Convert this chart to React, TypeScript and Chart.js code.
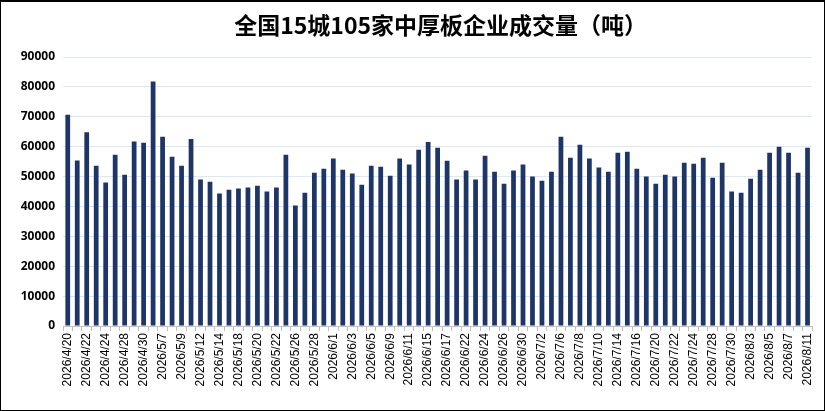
import { useEffect, useRef } from "react";
import { Chart, registerables } from "chart.js";

Chart.register(...registerables);

const titleText = "全国15城105家中厚板企业成交量（吨）";

const dates = [
  "2026/4/20", "2026/4/21", "2026/4/22", "2026/4/23", "2026/4/24",
  "2026/4/27", "2026/4/28", "2026/4/29", "2026/4/30", "2026/5/6",
  "2026/5/7", "2026/5/8", "2026/5/9", "2026/5/11", "2026/5/12",
  "2026/5/13", "2026/5/14", "2026/5/15", "2026/5/18", "2026/5/19",
  "2026/5/20", "2026/5/21", "2026/5/22", "2026/5/25", "2026/5/26",
  "2026/5/27", "2026/5/28", "2026/5/29", "2026/6/1", "2026/6/2",
  "2026/6/3", "2026/6/4", "2026/6/5", "2026/6/8", "2026/6/9",
  "2026/6/10", "2026/6/11", "2026/6/12", "2026/6/15", "2026/6/16",
  "2026/6/17", "2026/6/18", "2026/6/22", "2026/6/23", "2026/6/24",
  "2026/6/25", "2026/6/26", "2026/6/29", "2026/6/30", "2026/7/1",
  "2026/7/2", "2026/7/3", "2026/7/6", "2026/7/7", "2026/7/8",
  "2026/7/9", "2026/7/10", "2026/7/13", "2026/7/14", "2026/7/15",
  "2026/7/16", "2026/7/17", "2026/7/20", "2026/7/21", "2026/7/22",
  "2026/7/23", "2026/7/24", "2026/7/27", "2026/7/28", "2026/7/29",
  "2026/7/30", "2026/7/31", "2026/8/3", "2026/8/4", "2026/8/5",
  "2026/8/6", "2026/8/7", "2026/8/10", "2026/8/11",
];

const volumes = [
  70700, 55400, 64800, 53600, 48000, 57300, 50600, 61700, 61300, 81800,
  63300, 56600, 53600, 62600, 49000, 48300, 44300, 45600, 46000, 46300,
  46900, 45000, 46300, 57300, 40300, 44600, 51300, 52600, 56000, 52300,
  51000, 47300, 53600, 53300, 50300, 56000, 54000, 59000, 61600, 59600,
  55300, 49000, 52000, 49000, 57000, 51600, 47600, 52000, 54000, 50000,
  48600, 51600, 63300, 56300, 60600, 56000, 53000, 51600, 58000, 58300,
  52600, 50000, 47600, 50600, 50000, 54600, 54300, 56300, 49600, 54600,
  45000, 44600, 49300, 52300, 58000, 60000, 58000, 51300, 59600,
];

const yMin = 0;
const yMax = 90000;
const yStep = 10000;

const titlePlugin = {
  id: "centerTitle",
  afterDraw(chart: any) {
    const { ctx, chartArea } = chart;
    ctx.save();
    ctx.font = 'bold 23px "Noto Sans CJK SC"';
    ctx.fillStyle = "#000";
    ctx.textAlign = "center";
    ctx.textBaseline = "middle";
    ctx.fillText(titleText, (chartArea.left + chartArea.right) / 2 + 3, 23);
    ctx.restore();
  },
};

const VolumeChart = () => {
  const canvasRef = useRef<HTMLCanvasElement>(null);
  const chartRef = useRef<Chart | null>(null);

  useEffect(() => {
    if (!canvasRef.current) return;
    if (chartRef.current) chartRef.current.destroy();

    chartRef.current = new Chart(canvasRef.current, {
      type: "bar",
      data: {
        labels: dates,
        datasets: [
          {
            label: "成交量",
            data: volumes,
            backgroundColor: "#1d3567",
            barPercentage: 0.5,
            categoryPercentage: 1,
          },
        ],
      },
      options: {
        animation: false,
        responsive: false,
        devicePixelRatio: 1,
        layout: { padding: { top: 55, right: 11, left: 0, bottom: 0 } },
        plugins: {
          legend: { display: false },
          tooltip: { enabled: false },
          title: { display: false },
        },
        scales: {
          x: {
            offset: true,
            grid: {
              offset: true,
              drawOnChartArea: false,
              drawTicks: true,
              tickLength: 5,
              color: "#bfbfbf",
            },
            border: { display: true, color: "#bfbfbf" },
            ticks: {
              autoSkip: false,
              maxRotation: 90,
              minRotation: 90,
              padding: 2,
              color: "#000",
              font: { family: "Liberation Sans", size: 12 },
              callback: (_v: any, i: number) => (i % 2 === 0 ? dates[i] : ""),
            },
            afterFit: (s: any) => {
              s.height = 84;
            },
          },
          y: {
            min: yMin,
            max: yMax,
            ticks: {
              stepSize: yStep,
              padding: 8,
              color: "#000",
              font: { family: "Open Sans", size: 12, weight: "bold" },
              callback: (v: any) => String(v),
            },
            grid: { color: "#dce8f4", drawTicks: false },
            border: { display: false },
            afterFit: (s: any) => {
              s.width = 62;
            },
          },
        },
      },
      plugins: [titlePlugin],
    });

    return () => {
      if (chartRef.current) {
        chartRef.current.destroy();
        chartRef.current = null;
      }
    };
  }, []);

  return (
    <div
      style={{
        position: "absolute",
        left: 0,
        top: 0,
        width: 825,
        height: 411,
        boxSizing: "border-box",
        border: "1px solid #000",
        borderTopWidth: 2,
        background: "#fff",
      }}
    >
      <canvas ref={canvasRef} width={823} height={408} style={{ display: "block" }} />
    </div>
  );
};

export default function App() {
  return <VolumeChart />;
}
